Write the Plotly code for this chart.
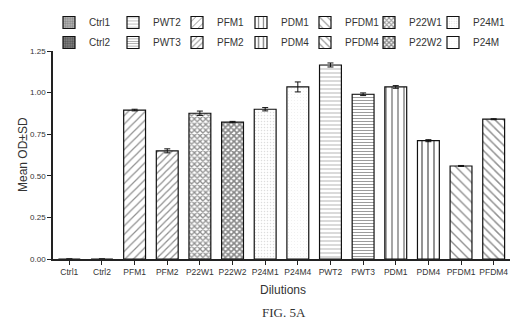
import plotly.graph_objects as go

# ---- data ----
categories = ["Ctrl1", "Ctrl2", "PFM1", "PFM2", "P22W1", "P22W2", "P24M1", "P24M4",
              "PWT2", "PWT3", "PDM1", "PDM4", "PFDM1", "PFDM4"]
mean_od = [0.0, 0.0, 0.895, 0.650, 0.876, 0.823, 0.900, 1.034,
           1.166, 0.990, 1.034, 0.711, 0.559, 0.840]
sd = [0.0, 0.0, 0.005, 0.012, 0.013, 0.004, 0.010, 0.030,
      0.012, 0.008, 0.008, 0.006, 0.003, 0.003]
legend_names = {"P24M4": "P24M"}
legend_row1 = ["Ctrl1", "PWT2", "PFM1", "PDM1", "PFDM1", "P22W1", "P24M1"]
legend_row2 = ["Ctrl2", "PWT3", "PFM2", "PDM4", "PFDM4", "P22W2", "P24M4"]
y_ticks = [0.0, 0.25, 0.5, 0.75, 1.0, 1.25]

# ---- styles ----
patterns = {
    "Ctrl1": dict(shape=".", fgcolor="#555", bgcolor="#bbb", size=3, solidity=0.5),
    "Ctrl2": dict(shape=".", fgcolor="#222", bgcolor="#888", size=3, solidity=0.5),
    "PWT2": dict(shape="-", fgcolor="#444", bgcolor="white", size=4, solidity=0.2),
    "PWT3": dict(shape="-", fgcolor="#222", bgcolor="white", size=3, solidity=0.3),
    "PFM1": dict(shape="/", fgcolor="#222", bgcolor="white", size=6, solidity=0.2),
    "PFM2": dict(shape="/", fgcolor="#222", bgcolor="white", size=5, solidity=0.25),
    "PDM1": dict(shape="|", fgcolor="#111", bgcolor="white", size=6, solidity=0.25),
    "PDM4": dict(shape="|", fgcolor="#111", bgcolor="white", size=6, solidity=0.3),
    "PFDM1": dict(shape="\\", fgcolor="#222", bgcolor="white", size=7, solidity=0.2),
    "PFDM4": dict(shape="\\", fgcolor="#222", bgcolor="white", size=6, solidity=0.25),
    "P22W1": dict(shape="x", fgcolor="#222", bgcolor="white", size=4, solidity=0.55),
    "P22W2": dict(shape="x", fgcolor="#111", bgcolor="white", size=4, solidity=0.65),
    "P24M1": dict(shape=".", fgcolor="#bbb", bgcolor="white", size=3, solidity=0.2),
    "P24M4": dict(shape=".", fgcolor="#ddd", bgcolor="white", size=3, solidity=0.12),
}

fig = go.Figure()
for legend_id, row in (("legend", legend_row1), ("legend2", legend_row2)):
    for k, cat in enumerate(row):
        i = categories.index(cat)
        fig.add_trace(go.Bar(
            x=[cat], y=[mean_od[i]],
            name=legend_names.get(cat, cat),
            legend=legend_id,
            legendwidth=36 if k == len(row) - 1 else 19,
            width=0.67,
            marker=dict(color="white", line=dict(color="#111", width=1.2),
                        pattern=patterns[cat]),
            error_y=dict(type="data", array=[sd[i]], visible=True,
                         color="#111", thickness=1, width=3),
        ))

# page body adds an 8px offset; work in screen pixels
OFF = 8
W, H = 519 - OFF, 324 - OFF
plot_left, plot_right, plot_top, plot_bottom = 53, 510, 51, 259
ml, mr = plot_left - OFF, W - (plot_right - OFF)
mt, mb = plot_top - OFF, H - (plot_bottom - OFF)
pw, ph = plot_right - plot_left, plot_bottom - plot_top


def sx(p):
    return (p - plot_left) / pw


def sy(p):
    return (plot_bottom - p) / ph


FONT = "Liberation Sans, Arial"
legend_common = dict(orientation="h", xanchor="left", x=sx(49), yanchor="middle",
                     entrywidth=19, entrywidthmode="pixels",
                     font=dict(family=FONT, size=10, color="#333"),
                     bgcolor="rgba(0,0,0,0)", itemclick=False, tracegroupgap=0)

fig.update_layout(
    width=W, height=H,
    margin=dict(l=ml, r=mr, t=mt, b=mb, pad=0, autoexpand=False),
    paper_bgcolor="white",
    plot_bgcolor="white",
    barmode="overlay",
    showlegend=True,
    legend=dict(y=sy(22.5), **legend_common),
    legend2=dict(y=sy(42.5), **legend_common),
    font=dict(family=FONT, color="#333"),
    xaxis=dict(categoryorder="array", categoryarray=categories,
               range=[-0.5, len(categories) - 0.5],
               showline=True, linecolor="#222", linewidth=1.5,
               ticks="outside", ticklen=4, tickcolor="#222", tickwidth=1.2,
               tickangle=0, showgrid=False, zeroline=False,
               tickfont=dict(family=FONT, size=8.5, color="#333")),
    yaxis=dict(range=[0, 1.25], tickvals=y_ticks, tickformat=".2f",
               showline=True, linecolor="#222", linewidth=1.5,
               ticks="outside", ticklen=4, tickcolor="#222", tickwidth=1.2,
               showgrid=False, zeroline=False,
               tickfont=dict(family=FONT, size=8, color="#333")),
    annotations=[
        dict(text="Mean OD±SD", xref="paper", yref="paper", x=sx(23), y=sy(155),
             xanchor="center", yanchor="middle",
             textangle=-90, showarrow=False,
             font=dict(family=FONT, size=12, color="#333")),
        dict(text="Dilutions", xref="paper", yref="paper", x=sx(283), y=sy(290),
             xanchor="center", yanchor="middle", showarrow=False,
             font=dict(family=FONT, size=12, color="#333")),
        dict(text="FIG. 5A", xref="paper", yref="paper", x=sx(284), y=sy(312),
             xanchor="center", yanchor="middle", showarrow=False,
             font=dict(family="Liberation Serif, Times New Roman", size=13, color="#333")),
    ],
)

fig.write_html("out.html")
